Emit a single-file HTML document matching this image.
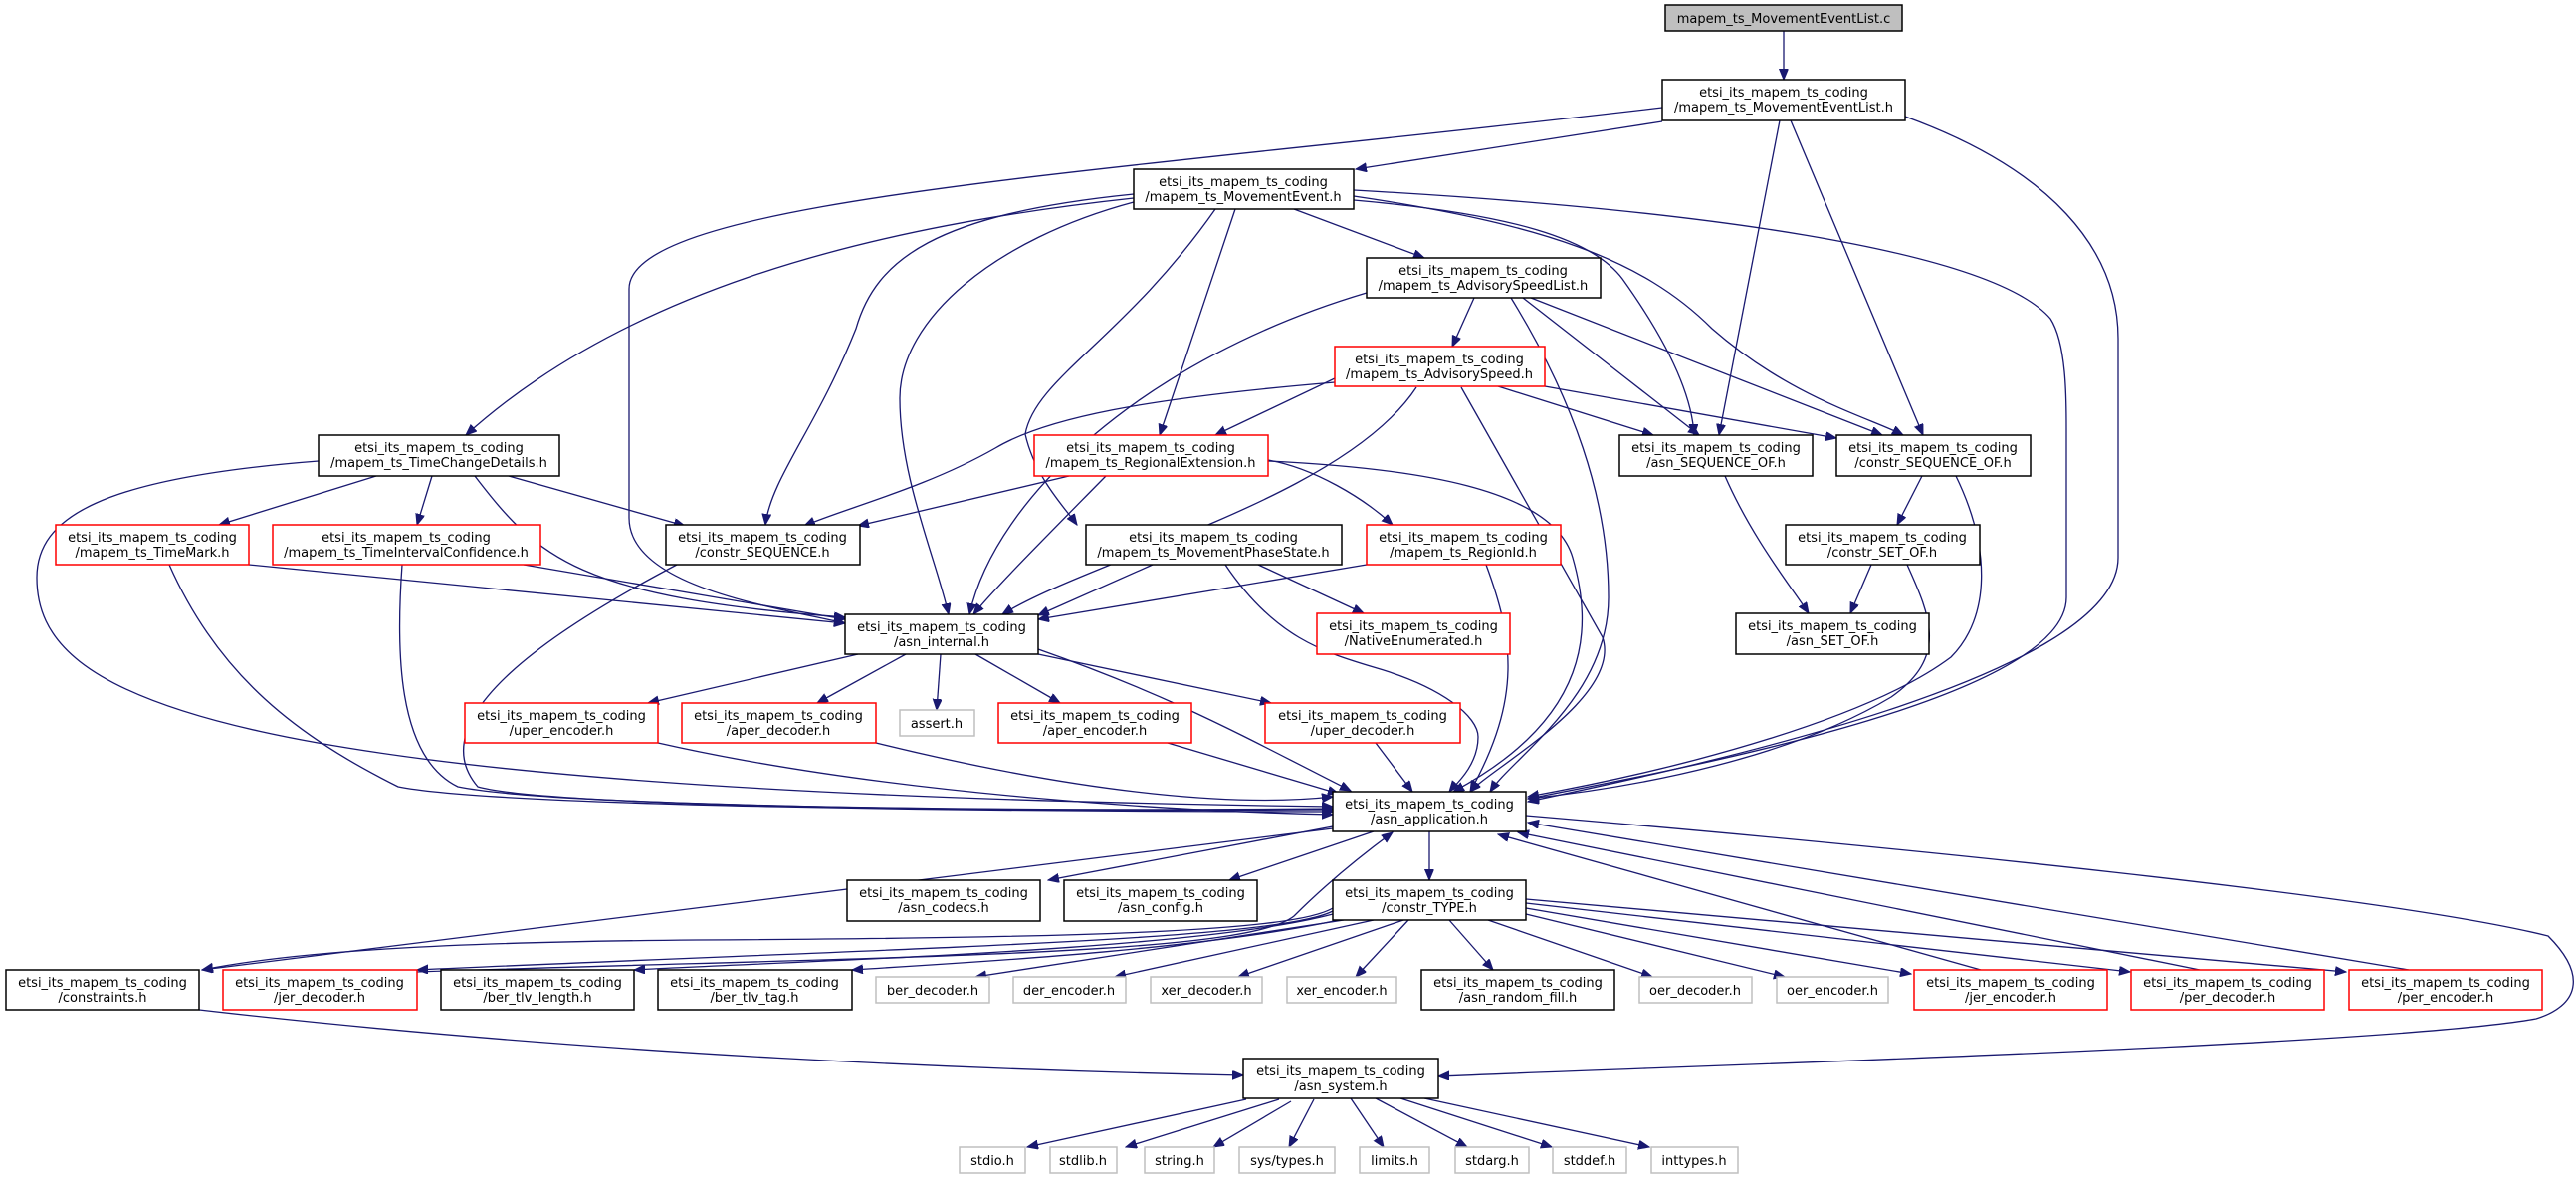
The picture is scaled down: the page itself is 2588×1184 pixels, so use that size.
<!DOCTYPE html>
<html><head><meta charset="utf-8"><style>
html,body{margin:0;padding:0;background:#fff;}
svg{display:block;}
text{font-family:"DejaVu Sans","Liberation Sans",sans-serif;font-size:13px;fill:#000;text-anchor:middle;}
.e{fill:none;stroke:#191970;stroke-width:1.3;marker-end:url(#a);}
.b{fill:#fff;stroke:#000;stroke-width:1.5;}
.r{fill:#fff;stroke:#ff0000;stroke-width:1.5;}
.g{fill:#fff;stroke:#bfbfbf;stroke-width:1.5;}
</style></head><body>
<svg width="2588" height="1184" viewBox="0 0 2588 1184" xmlns="http://www.w3.org/2000/svg">
<defs><marker id="a" markerUnits="userSpaceOnUse" markerWidth="12" markerHeight="10" refX="11" refY="4.5" orient="auto"><path d="M0,0 L11,4.5 L0,9 z" fill="#191970" stroke="#191970"/></marker></defs>
<g>
<path class="e" d="M1792,31 L1792,80"/>
<path class="e" d="M1670,122 L1362,170"/>
<path class="e" d="M1670,108 C1100,175 632,200 632,290 L632,520 C632,590 780,610 849,626"/>
<path class="e" d="M1788,121 L1727,437"/>
<path class="e" d="M1799,121 L1932,437"/>
<path class="e" d="M1914,117 C2060,170 2128,250 2128,340 L2128,560 C2128,680 1700,770 1535,805"/>
<path class="e" d="M1139,199 C850,230 620,300 468,437"/>
<path class="e" d="M1139,195 C940,215 880,260 860,330 C820,430 775,480 769,527"/>
<path class="e" d="M1139,203 C1000,240 904,320 904,400 C904,480 940,560 953,617"/>
<path class="e" d="M1221,210 C1130,340 1040,380 1030,436 C1040,480 1070,510 1082,527"/>
<path class="e" d="M1241,210 L1165,437"/>
<path class="e" d="M1300,210 L1431,259"/>
<path class="e" d="M1360,201 C1520,215 1600,240 1630,280 C1680,350 1700,400 1702,437"/>
<path class="e" d="M1360,197 C1550,225 1650,260 1720,330 C1800,400 1880,420 1912,437"/>
<path class="e" d="M1360,191 C1700,210 2000,250 2060,320 C2076,345 2076,400 2076,430 L2076,600 C2076,700 1700,770 1535,802"/>
<path class="e" d="M1481,299 L1459,348"/>
<path class="e" d="M1373,294 C1150,360 1000,500 974,617"/>
<path class="e" d="M1530,299 L1707,437"/>
<path class="e" d="M1538,299 L1891,437"/>
<path class="e" d="M1518,299 C1580,400 1616,500 1616,600 C1616,700 1520,760 1497,795"/>
<path class="e" d="M1341,380 L1221,437"/>
<path class="e" d="M1341,384 C1150,400 1050,420 1000,450 C930,490 850,510 808,528"/>
<path class="e" d="M1423,389 C1350,500 1100,560 1007,617"/>
<path class="e" d="M1505,388 L1661,437"/>
<path class="e" d="M1552,388 L1845,440"/>
<path class="e" d="M1468,389 L1610,640 C1630,700 1500,770 1477,795"/>
<path class="e" d="M1074,478 L862,528"/>
<path class="e" d="M1111,478 C1050,540 1000,590 978,617"/>
<path class="e" d="M1274,462 C1320,470 1370,500 1399,527"/>
<path class="e" d="M1274,463 C1420,470 1560,490 1580,560 C1600,630 1600,720 1460,795"/>
<path class="e" d="M378,478 L220,527"/>
<path class="e" d="M434,478 L419,527"/>
<path class="e" d="M511,478 L688,528"/>
<path class="e" d="M477,478 C540,560 580,600 849,620"/>
<path class="e" d="M320,463 C100,480 37,520 37,580 C37,700 200,795 1339,810"/>
<path class="e" d="M250,567 L849,626"/>
<path class="e" d="M170,567 C220,680 300,740 400,790 C500,810 1000,815 1339,815"/>
<path class="e" d="M526,567 L849,622"/>
<path class="e" d="M404,567 C398,650 398,760 460,790 C560,810 1000,815 1339,813"/>
<path class="e" d="M680,567 C560,630 420,720 480,790 C550,810 1000,815 1339,812"/>
<path class="e" d="M1158,567 L1043,618"/>
<path class="e" d="M1264,567 L1370,616"/>
<path class="e" d="M1231,567 C1280,640 1330,655 1380,670 C1450,690 1485,720 1485,740 C1485,770 1460,790 1456,795"/>
<path class="e" d="M1373,567 L1043,622"/>
<path class="e" d="M1493,567 C1520,640 1530,700 1477,795"/>
<path class="e" d="M1931,478 L1906,527"/>
<path class="e" d="M1965,478 C2000,550 2000,620 1960,660 C1880,720 1700,770 1535,800"/>
<path class="e" d="M1733,478 C1760,540 1800,590 1817,616"/>
<path class="e" d="M1880,567 L1859,616"/>
<path class="e" d="M1916,567 C1940,620 1957,660 1900,700 C1800,760 1650,790 1535,802"/>
<path class="e" d="M862,657 L651,706"/>
<path class="e" d="M910,657 L821,706"/>
<path class="e" d="M945,657 L941,713"/>
<path class="e" d="M980,657 L1065,706"/>
<path class="e" d="M1043,657 L1277,706"/>
<path class="e" d="M1043,652 C1180,700 1250,740 1357,794"/>
<path class="e" d="M661,746 C900,800 1200,815 1339,818"/>
<path class="e" d="M880,746 C1100,800 1250,810 1339,800"/>
<path class="e" d="M1173,746 L1345,797"/>
<path class="e" d="M1382,746 L1419,795"/>
<path class="e" d="M1339,830 L1053,884"/>
<path class="e" d="M1380,835 L1235,884"/>
<path class="e" d="M1436,835 L1436,884"/>
<path class="e" d="M1339,832 L203,974"/>
<path class="e" d="M1533,819 C1900,850 2400,900 2560,940 C2600,980 2590,1010 2548,1023 C2400,1050 1700,1070 1445,1081"/>
<path class="e" d="M1339,912 C1300,935 1100,942 700,944 C450,946 300,955 203,974"/>
<path class="e" d="M1339,915 C1280,945 900,952 419,974"/>
<path class="e" d="M1339,918 C1200,955 800,965 637,974"/>
<path class="e" d="M1345,924 C1200,955 950,968 856,974"/>
<path class="e" d="M1350,924 L980,981"/>
<path class="e" d="M1380,924 L1120,981"/>
<path class="e" d="M1410,924 L1244,981"/>
<path class="e" d="M1415,924 L1362,981"/>
<path class="e" d="M1456,924 L1500,974"/>
<path class="e" d="M1495,924 L1660,981"/>
<path class="e" d="M1533,918 L1793,981"/>
<path class="e" d="M1533,912 L1920,978"/>
<path class="e" d="M1533,907 L2140,976"/>
<path class="e" d="M1533,903 L2357,976"/>
<path class="e" d="M419,976 C900,960 1250,960 1300,920 C1340,880 1380,850 1399,836"/>
<path class="e" d="M1990,974 L1505,838"/>
<path class="e" d="M2210,974 L1525,836"/>
<path class="e" d="M2420,974 L1535,826"/>
<path class="e" d="M200,1014 C600,1060 1000,1075 1249,1080"/>
<path class="e" d="M1252,1104 L1032,1152"/>
<path class="e" d="M1285,1104 L1131,1152"/>
<path class="e" d="M1297,1106 L1219,1152"/>
<path class="e" d="M1320,1104 L1295,1152"/>
<path class="e" d="M1357,1103 L1390,1152"/>
<path class="e" d="M1382,1103 L1474,1152"/>
<path class="e" d="M1407,1103 L1559,1152"/>
<path class="e" d="M1431,1103 L1657,1152"/>
</g>
<g>
<rect x="1673" y="5" width="238" height="26" fill="#bfbfbf" stroke="#000" stroke-width="1.5"/><text x="1792" y="23">mapem_ts_MovementEventList.c</text>
<rect class="b" x="1670" y="80" width="244" height="41"/><text x="1792" y="97">etsi_its_mapem_ts_coding</text><text x="1792" y="112">/mapem_ts_MovementEventList.h</text>
<rect class="b" x="1139" y="170" width="221" height="40"/><text x="1249" y="187">etsi_its_mapem_ts_coding</text><text x="1249" y="202">/mapem_ts_MovementEvent.h</text>
<rect class="b" x="1373" y="259" width="235" height="40"/><text x="1490" y="276">etsi_its_mapem_ts_coding</text><text x="1490" y="291">/mapem_ts_AdvisorySpeedList.h</text>
<rect class="r" x="1341" y="348" width="211" height="40"/><text x="1446" y="365">etsi_its_mapem_ts_coding</text><text x="1446" y="380">/mapem_ts_AdvisorySpeed.h</text>
<rect class="b" x="1627" y="437" width="194" height="41"/><text x="1724" y="454">etsi_its_mapem_ts_coding</text><text x="1724" y="469">/asn_SEQUENCE_OF.h</text>
<rect class="b" x="1845" y="437" width="195" height="41"/><text x="1942" y="454">etsi_its_mapem_ts_coding</text><text x="1942" y="469">/constr_SEQUENCE_OF.h</text>
<rect class="b" x="1794" y="527" width="195" height="40"/><text x="1891" y="544">etsi_its_mapem_ts_coding</text><text x="1891" y="559">/constr_SET_OF.h</text>
<rect class="r" x="1373" y="527" width="195" height="40"/><text x="1470" y="544">etsi_its_mapem_ts_coding</text><text x="1470" y="559">/mapem_ts_RegionId.h</text>
<rect class="b" x="1091" y="527" width="257" height="40"/><text x="1219" y="544">etsi_its_mapem_ts_coding</text><text x="1219" y="559">/mapem_ts_MovementPhaseState.h</text>
<rect class="r" x="1039" y="437" width="235" height="41"/><text x="1156" y="454">etsi_its_mapem_ts_coding</text><text x="1156" y="469">/mapem_ts_RegionalExtension.h</text>
<rect class="b" x="320" y="437" width="242" height="41"/><text x="441" y="454">etsi_its_mapem_ts_coding</text><text x="441" y="469">/mapem_ts_TimeChangeDetails.h</text>
<rect class="r" x="56" y="527" width="194" height="40"/><text x="153" y="544">etsi_its_mapem_ts_coding</text><text x="153" y="559">/mapem_ts_TimeMark.h</text>
<rect class="r" x="274" y="527" width="269" height="40"/><text x="408" y="544">etsi_its_mapem_ts_coding</text><text x="408" y="559">/mapem_ts_TimeIntervalConfidence.h</text>
<rect class="b" x="669" y="527" width="195" height="40"/><text x="766" y="544">etsi_its_mapem_ts_coding</text><text x="766" y="559">/constr_SEQUENCE.h</text>
<rect class="r" x="1323" y="616" width="194" height="41"/><text x="1420" y="633">etsi_its_mapem_ts_coding</text><text x="1420" y="648">/NativeEnumerated.h</text>
<rect class="b" x="1744" y="616" width="194" height="41"/><text x="1841" y="633">etsi_its_mapem_ts_coding</text><text x="1841" y="648">/asn_SET_OF.h</text>
<rect class="b" x="849" y="617" width="194" height="40"/><text x="946" y="634">etsi_its_mapem_ts_coding</text><text x="946" y="649">/asn_internal.h</text>
<rect class="r" x="467" y="706" width="194" height="40"/><text x="564" y="723">etsi_its_mapem_ts_coding</text><text x="564" y="738">/uper_encoder.h</text>
<rect class="r" x="685" y="706" width="195" height="40"/><text x="782" y="723">etsi_its_mapem_ts_coding</text><text x="782" y="738">/aper_decoder.h</text>
<rect class="g" x="904" y="713" width="75" height="26"/><text x="941" y="731">assert.h</text>
<rect class="r" x="1003" y="706" width="194" height="40"/><text x="1100" y="723">etsi_its_mapem_ts_coding</text><text x="1100" y="738">/aper_encoder.h</text>
<rect class="r" x="1271" y="706" width="196" height="40"/><text x="1369" y="723">etsi_its_mapem_ts_coding</text><text x="1369" y="738">/uper_decoder.h</text>
<rect class="b" x="1339" y="795" width="194" height="40"/><text x="1436" y="812">etsi_its_mapem_ts_coding</text><text x="1436" y="827">/asn_application.h</text>
<rect class="b" x="851" y="884" width="194" height="41"/><text x="948" y="901">etsi_its_mapem_ts_coding</text><text x="948" y="916">/asn_codecs.h</text>
<rect class="b" x="1069" y="884" width="194" height="41"/><text x="1166" y="901">etsi_its_mapem_ts_coding</text><text x="1166" y="916">/asn_config.h</text>
<rect class="b" x="1339" y="884" width="194" height="40"/><text x="1436" y="901">etsi_its_mapem_ts_coding</text><text x="1436" y="916">/constr_TYPE.h</text>
<rect class="b" x="6" y="974" width="194" height="40"/><text x="103" y="991">etsi_its_mapem_ts_coding</text><text x="103" y="1006">/constraints.h</text>
<rect class="r" x="224" y="974" width="195" height="40"/><text x="321" y="991">etsi_its_mapem_ts_coding</text><text x="321" y="1006">/jer_decoder.h</text>
<rect class="b" x="443" y="974" width="194" height="40"/><text x="540" y="991">etsi_its_mapem_ts_coding</text><text x="540" y="1006">/ber_tlv_length.h</text>
<rect class="b" x="661" y="974" width="195" height="40"/><text x="758" y="991">etsi_its_mapem_ts_coding</text><text x="758" y="1006">/ber_tlv_tag.h</text>
<rect class="g" x="880" y="981" width="114" height="26"/><text x="937" y="999">ber_decoder.h</text>
<rect class="g" x="1018" y="981" width="113" height="26"/><text x="1074" y="999">der_encoder.h</text>
<rect class="g" x="1156" y="981" width="112" height="26"/><text x="1212" y="999">xer_decoder.h</text>
<rect class="g" x="1293" y="981" width="110" height="26"/><text x="1348" y="999">xer_encoder.h</text>
<rect class="b" x="1428" y="974" width="194" height="40"/><text x="1525" y="991">etsi_its_mapem_ts_coding</text><text x="1525" y="1006">/asn_random_fill.h</text>
<rect class="g" x="1647" y="981" width="113" height="26"/><text x="1703" y="999">oer_decoder.h</text>
<rect class="g" x="1785" y="981" width="112" height="26"/><text x="1841" y="999">oer_encoder.h</text>
<rect class="r" x="1923" y="974" width="194" height="40"/><text x="2020" y="991">etsi_its_mapem_ts_coding</text><text x="2020" y="1006">/jer_encoder.h</text>
<rect class="r" x="2141" y="974" width="194" height="40"/><text x="2238" y="991">etsi_its_mapem_ts_coding</text><text x="2238" y="1006">/per_decoder.h</text>
<rect class="r" x="2360" y="974" width="194" height="40"/><text x="2457" y="991">etsi_its_mapem_ts_coding</text><text x="2457" y="1006">/per_encoder.h</text>
<rect class="b" x="1249" y="1063" width="196" height="40"/><text x="1347" y="1080">etsi_its_mapem_ts_coding</text><text x="1347" y="1095">/asn_system.h</text>
<rect class="g" x="964" y="1152" width="66" height="26"/><text x="997" y="1170">stdio.h</text>
<rect class="g" x="1055" y="1152" width="67" height="26"/><text x="1088" y="1170">stdlib.h</text>
<rect class="g" x="1150" y="1152" width="70" height="26"/><text x="1185" y="1170">string.h</text>
<rect class="g" x="1245" y="1152" width="96" height="26"/><text x="1293" y="1170">sys/types.h</text>
<rect class="g" x="1366" y="1152" width="70" height="26"/><text x="1401" y="1170">limits.h</text>
<rect class="g" x="1462" y="1152" width="74" height="26"/><text x="1499" y="1170">stdarg.h</text>
<rect class="g" x="1560" y="1152" width="74" height="26"/><text x="1597" y="1170">stddef.h</text>
<rect class="g" x="1659" y="1152" width="87" height="26"/><text x="1702" y="1170">inttypes.h</text>
</g>
</svg>
</body></html>
